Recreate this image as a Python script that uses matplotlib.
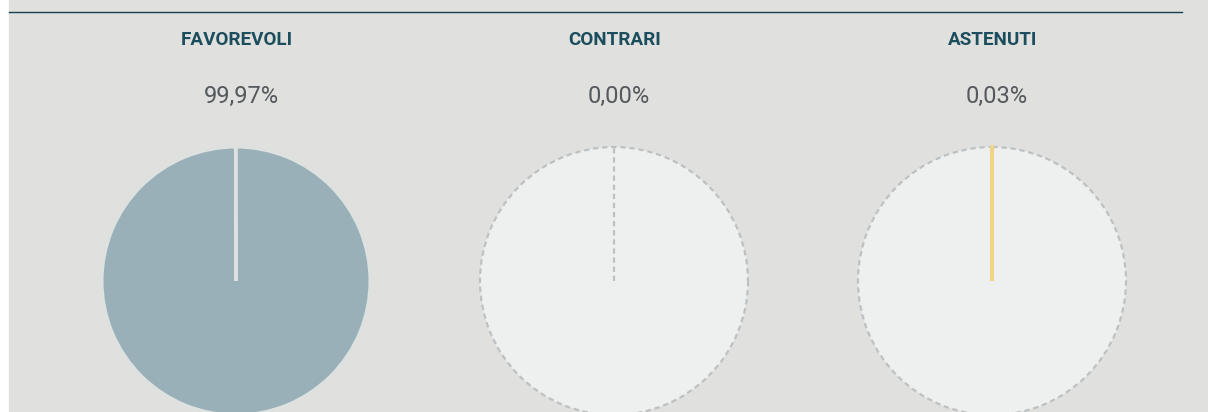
import matplotlib.pyplot as plt
from matplotlib.patches import Rectangle


OUTPUT_PATH = "out.png"

categories = ["FAVOREVOLI", "CONTRARI", "ASTENUTI"]
percentages = [99.97, 0.00, 0.03]
value_labels = ["99,97%", "0,00%", "0,03%"]

slice_colors = ["#99b0b8", "#c94f4f", "#f1d385"]
edge_colors = ["#dde1e0", "#c94f4f", "#f1d385"]
BG = "#e0e0de"
EMPTY = "#eef0ef"
DASH = "#bdc1c2"
TITLE_COLOR = "#1b4d5c"
VALUE_COLOR = "#55595d"

fig = plt.figure(figsize=(12.08, 4.12), dpi=100)
fig.patch.set_facecolor("white")
ax = fig.add_axes([0, 0, 1, 1])
ax.set_facecolor("white")

ax.add_patch(Rectangle((9, 0), 1199, 412, color=BG, zorder=0))
ax.plot([9, 1182], [11.5, 11.5], color="#173f4d", linewidth=1.0, zorder=1)

centers_x = [236, 614, 992]
center_y = 281
radius = 134
dash_style = (0, (2.4, 1.7))

for i, (name, value) in enumerate(zip(categories, percentages)):
    cx = centers_x[i]
    wedges, _ = ax.pie(
        [value, 100 - value],
        colors=[slice_colors[i], EMPTY],
        center=(cx, center_y),
        radius=radius,
        startangle=-90,
        counterclock=True,
        frame=True,
    )
    filled, empty = wedges
    empty.set_edgecolor(DASH)
    empty.set_linewidth(1.6)
    empty.set_linestyle(dash_style)
    empty.set_zorder(2)
    if value > 0:
        filled.set_edgecolor(edge_colors[i])
        filled.set_linewidth(2.2 if i == 0 else 2.6)
        filled.set_zorder(3)
    else:
        # empty slice: only the dashed radius is left
        filled.set_visible(False)
        wx, wy = filled.center
        ax.plot([wx, wx], [wy, wy - filled.r], color=DASH, linewidth=1.6,
                linestyle=dash_style, zorder=3)

    ax.text(cx + 1, 40, name, ha="center", va="center", fontsize=13.6,
            family="Roboto", fontweight="bold", color=TITLE_COLOR)
    ax.text(cx + 5, 96, value_labels[i], ha="center", va="center", fontsize=17,
            family="Roboto", fontweight="normal", color=VALUE_COLOR)

ax.set_xlim(0, 1208)
ax.set_ylim(412, 0)
ax.set_aspect("auto")
ax.axis("off")

plt.savefig(OUTPUT_PATH, dpi=100, facecolor=fig.get_facecolor())
